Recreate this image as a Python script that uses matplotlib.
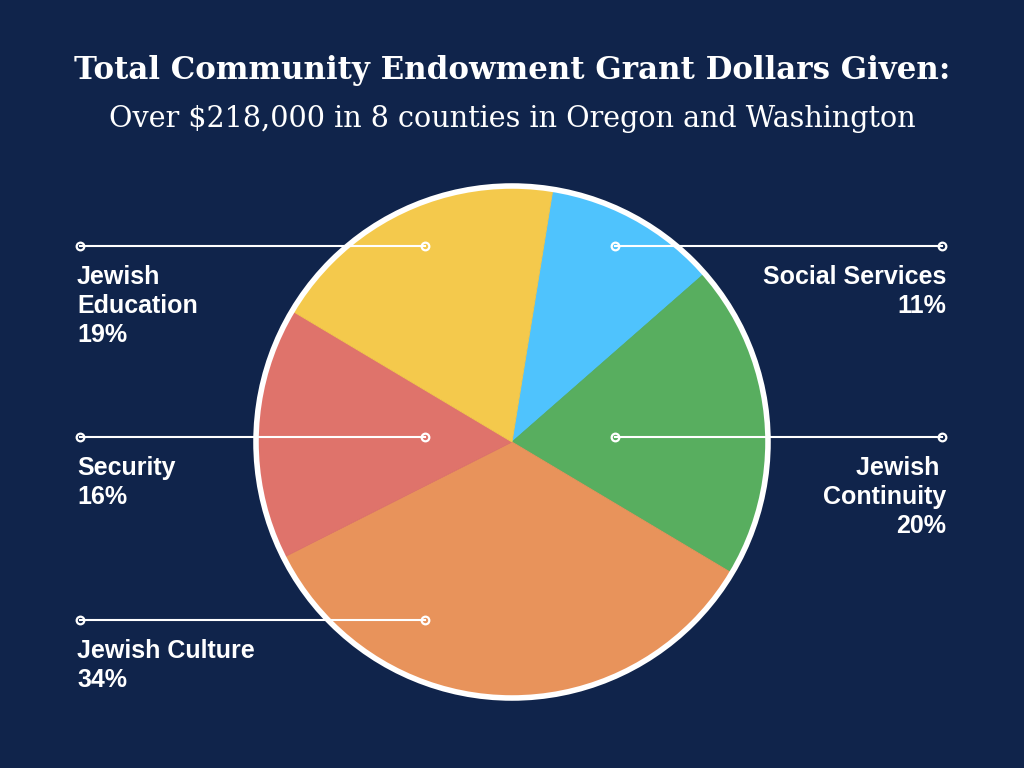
import matplotlib.pyplot as plt
from matplotlib.patches import Circle
from matplotlib import font_manager as fm

# =========================
# DATA
# =========================
categories = ["Social Services", "Jewish Continuity", "Jewish Culture", "Security", "Jewish Education"]
shares = [11, 20, 34, 16, 19]
colors = ["#4fc3fd", "#58ae5f", "#e8935b", "#df736b", "#f4c94c"]

label_texts = ["Social Services\n11%", "Jewish \nContinuity\n20%", "Jewish Culture\n34%",
               "Security\n16%", "Jewish\nEducation\n19%"]
label_side = ["right", "right", "left", "left", "left"]
# leader line heights in image pixels (from top)
label_y = [246, 437, 620, 437, 246]

title = "Total Community Endowment Grant Dollars Given:"
subtitle = "Over $218,000 in 8 counties in Oregon and Washington"

BG = "#10244b"
W, H = 1024, 768

# pick the regular-width Liberation Sans Bold file (not the Narrow one)
label_font = fm.FontProperties(family="DejaVu Sans", weight="bold", size=17)
for path in fm.findSystemFonts():
    if path.endswith("LiberationSans-Bold.ttf"):
        label_font = fm.FontProperties(fname=path, size=18)
        break
print(label_font.get_file() if hasattr(label_font, "get_file") else label_font)

# =========================
# FIGURE
# =========================
fig = plt.figure(figsize=(W / 100, H / 100), dpi=100, facecolor=BG)
ax = fig.add_axes([0, 0, 1, 1])

cx, cy, r = 512, H - 442, 256

wedges, _ = ax.pie(shares, colors=colors, startangle=80.8, counterclock=False,
                   center=(cx, cy), radius=r, frame=True)
for w in wedges:
    w.set_edgecolor(w.get_facecolor())
    w.set_linewidth(0.6)
ax.set_xlim(0, W)
ax.set_ylim(0, H)
ax.set_aspect("equal")
ax.axis("off")
ax.add_patch(Circle((cx, cy), r, fill=False, edgecolor="white", linewidth=4, zorder=5))

# =========================
# LEADER LINES + LABELS
# =========================
for text, side, yi in zip(label_texts, label_side, label_y):
    y = H - yi
    if side == "left":
        xs = [80, 425]
        tx, ha = 77, "left"
    else:
        xs = [615, 942]
        tx, ha = 946, "right"
    ax.plot(xs, [y, y], color="white", linewidth=1.5, zorder=6)
    ax.plot(xs, [y, y], linestyle="none", marker="o", markersize=5.5,
            markerfacecolor="none", markeredgecolor="white", markeredgewidth=1.6, zorder=7)
    ax.text(tx, y - 19, text, ha=ha, va="top", color="white",
            fontproperties=label_font, linespacing=1.27, zorder=8)

# =========================
# TITLES
# =========================
fig.text(0.5, 1 - 79 / H, title, ha="center", va="baseline", color="white",
         fontsize=22.2, fontweight="bold", family="DejaVu Serif")
fig.text(0.5, 1 - 127 / H, subtitle, ha="center", va="baseline", color="white",
         fontsize=20.6, family="DejaVu Serif")

fig.savefig("out.png", dpi=100, facecolor=BG)
